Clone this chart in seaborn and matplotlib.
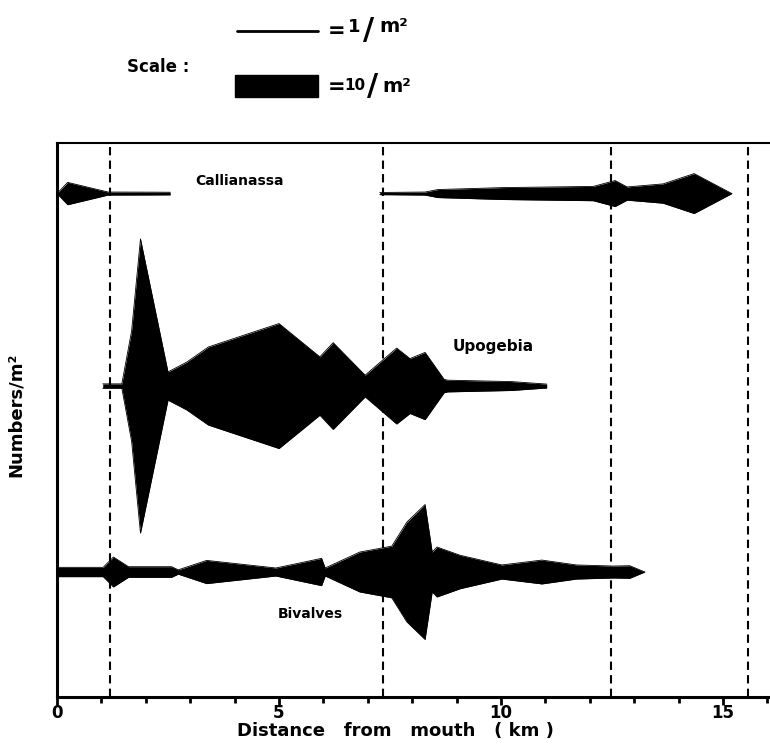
import numpy as np
import pandas as pd
import matplotlib
matplotlib.use("Agg")
import matplotlib.pyplot as plt
import seaborn as sns
from matplotlib.patches import Rectangle
from matplotlib.lines import Line2D

# ---------------- data (distance km, numbers per m2) ----------------
callianassa_km_a = [0.0, 0.24, 1.15, 2.09, 2.55]
callianassa_n_a = [0.0, 10.3, 1.4, 1.3, 1.2]
callianassa_km_b = [7.27, 8.29, 8.58, 10.05, 12.08, 12.57, 12.84, 13.65, 14.35, 15.2]
callianassa_n_b = [1.0, 1.4, 3.7, 5.5, 6.6, 12.0, 6.1, 8.9, 18.4, 0.0]

upogebia_km = [1.03, 1.46, 1.68, 1.88, 2.50, 2.92, 3.41, 5.00, 5.92, 6.22, 6.94,
               7.65, 7.95, 8.29, 8.72, 8.80, 10.24, 11.03]
upogebia_n = [2.0, 2.0, 50.7, 135.6, 13.0, 22.0, 36.0, 57.6, 26.9, 40.0, 10.0,
              35.0, 25.3, 31.0, 6.1, 5.4, 4.1, 1.8]

bivalves_km = [0.0, 1.04, 1.27, 1.61, 2.58, 2.73, 3.37, 4.93, 5.96, 6.04, 6.82,
               7.54, 7.88, 8.29, 8.45, 8.56, 9.08, 10.02, 10.92, 11.70, 12.53,
               12.90, 13.24]
bivalves_n = [4.3, 4.3, 13.8, 4.9, 4.9, 2.0, 10.7, 3.7, 12.6, 3.7, 18.4,
              23.8, 46.0, 62.2, 18.4, 23.0, 15.4, 6.5, 11.0, 6.5, 5.5,
              5.8, 0.0]

station_km = [1.19, 7.34, 12.48, 15.56]
species = ["Callianassa", "Upogebia", "Bivalves"]
xticks_major = [0, 5, 10, 15]

# ---------------- layout ----------------
W, H = 770, 747
baseline = {"Callianassa": 232.0, "Upogebia": 143.3, "Bivalves": 57.6}

rows = []
def add(name, seg, kms, ns):
    for k, n in zip(kms, ns):
        rows.append(dict(species=name, seg=f"{name}-{seg}", km=k, n=n))
add("Callianassa", 0, callianassa_km_a, callianassa_n_a)
add("Callianassa", 1, callianassa_km_b, callianassa_n_b)
add("Upogebia", 0, upogebia_km, upogebia_n)
add("Bivalves", 0, bivalves_km, bivalves_n)
df = pd.DataFrame(rows)
df["base"] = df["species"].map(baseline)
df["upper"] = df["base"] + df["n"] / 2
df["lower"] = df["base"] - df["n"] / 2

sns.set_theme(style="white")
plt.rcParams["font.family"] = ["DejaVu Sans"]
plt.rcParams["text.color"] = "black"
plt.rcParams["axes.labelcolor"] = "black"
plt.rcParams["xtick.color"] = "black"
plt.rcParams["ytick.color"] = "black"

fig = plt.figure(figsize=(W / 100, H / 100), dpi=100)
ax = fig.add_axes([57 / W, 1 - 697 / H, (W - 57) / W, (697 - 143) / H])

def fx(px):
    return px / W
def fy(py):
    return 1 - py / H

for seg, g in df.groupby("seg"):
    ax.fill_between(g["km"], g["lower"], g["upper"], color="black", lw=0)

edges = pd.concat([
    df.assign(edge=df["upper"], uid=df["seg"] + "u"),
    df.assign(edge=df["lower"], uid=df["seg"] + "l"),
])
sns.lineplot(data=edges, x="km", y="edge", units="uid", estimator=None,
             color="black", lw=0.6, ax=ax, legend=False, sort=False)

for s in station_km:
    ax.axvline(s, color="black", lw=1.5, ls=(0, (4, 2.5)))

ax.set_xlim(0, (W - 57) / 44.4)
ax.set_ylim(0, 554 / 2.17)

ax.set_xticks(xticks_major)
ax.set_xticklabels([str(t) for t in xticks_major], fontweight="bold", fontsize=12)
ax.set_xticks(np.arange(1, 17), minor=True)
ax.tick_params(axis="x", which="major", direction="out", length=6, width=2,
               color="black", pad=-1, bottom=True, labelcolor="black")
ax.tick_params(axis="x", which="minor", direction="out", length=4, width=2,
               color="black", bottom=True)
ax.set_yticks([])

for side in ["left", "bottom"]:
    ax.spines[side].set_linewidth(2.2)
    ax.spines[side].set_color("black")
ax.spines["top"].set_linewidth(1.5)
ax.spines["top"].set_color("black")
ax.spines["right"].set_visible(False)

ax.set_xlabel("Distance   from   mouth   ( km )", fontweight="bold", fontsize=13,
              color="black")
ax.xaxis.set_label_coords(0.475, -0.046)
ax.set_ylabel("Numbers/m²", fontweight="bold", fontsize=13, color="black")
ax.yaxis.set_label_coords(-0.045, 0.51)

# species labels
ax.text((240 - 57) / 44.4, (697 - 181) / 2.17, "Callianassa", ha="center",
        va="center", fontweight="bold", fontsize=10, color="black")
ax.text((493 - 57) / 44.4, (697 - 346) / 2.17, "Upogebia", ha="center",
        va="center", fontweight="bold", fontsize=11, color="black")
ax.text((310 - 57) / 44.4, (697 - 614) / 2.17, "Bivalves", ha="center",
        va="center", fontweight="bold", fontsize=10, color="black")

# scale legend
fig.text(fx(158), fy(67), "Scale :", ha="center", va="center",
         fontweight="bold", fontsize=12, color="black")
fig.add_artist(Line2D([fx(237), fx(318)], [fy(30.5), fy(30.5)],
                      color="black", lw=2.0, transform=fig.transFigure))
fig.add_artist(Rectangle((fx(235), fy(97)), fx(318) - fx(235), fy(75) - fy(97),
                         color="black", transform=fig.transFigure))
kw = dict(va="center", fontweight="bold", color="black")
fig.text(fx(337), fy(31), "=", ha="center", fontsize=15, **kw)
fig.text(fx(354), fy(27), "1", ha="center", fontsize=13, **kw)
fig.text(fx(369), fy(30), "/", ha="center", fontsize=22, **kw)
fig.text(fx(379), fy(27), "m²", ha="left", fontsize=14, **kw)
fig.text(fx(337), fy(87), "=", ha="center", fontsize=15, **kw)
fig.text(fx(355), fy(85), "10", ha="center", fontsize=11, **kw)
fig.text(fx(373), fy(86), "/", ha="center", fontsize=22, **kw)
fig.text(fx(382), fy(86), "m²", ha="left", fontsize=14, **kw)

fig.savefig("out.png", dpi=100)
